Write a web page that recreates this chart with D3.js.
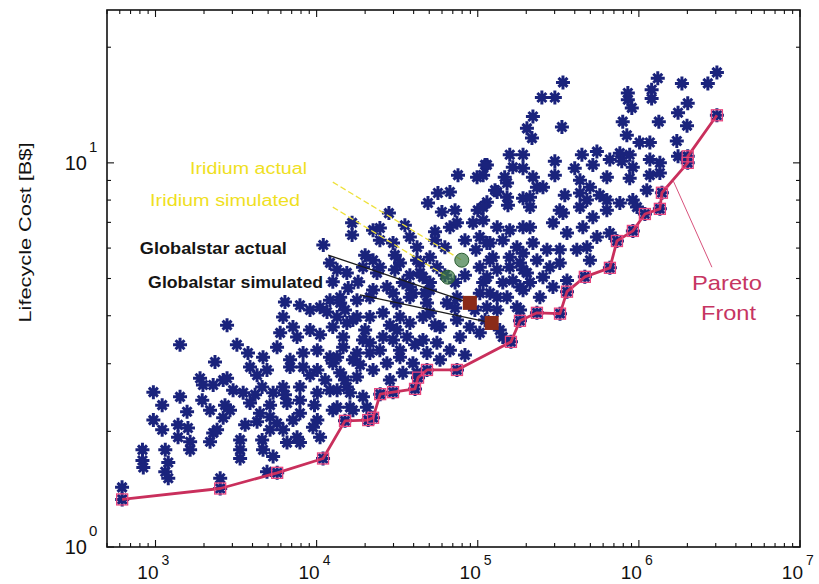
<!DOCTYPE html>
<html lang="en">
<head>
<meta charset="UTF-8">
<title>Lifecycle cost vs. capacity</title>
<script src="https://cdn.jsdelivr.net/npm/d3@7"></script>
<style>
  body { margin: 0; background: #fff; }
  svg { display: block; font-family: "Liberation Sans", Arial, Helvetica, sans-serif; }
</style>
</head>
<body>
<script>
const width = 819;
const height = 584;
const marginTop = 10;
const marginRight = 19;
const marginBottom = 37;
const marginLeft = 107;

// architectures: [capacity, lifecycle cost B$]
const designs = [
  [620,1.43],[830,1.79],[830,1.68],[840,1.61],[1150,1.79],[1200,1.66],[1150,1.57],[1200,1.51],
  [970,2.53],[1100,2.34],[970,2.14],[1100,2.02],[1420,2.46],[1570,2.25],[1380,2.08],[1590,2.04],
  [1380,1.93],[1640,1.88],[1640,1.79],[1890,2.75],[1970,2.64],[1950,2.41],[2180,2.27],[2280,1.98],
  [2180,1.88],[2630,2.72],[2700,2.34],[2630,2.17],[2410,2.02],[2520,1.51],[3350,1.90],[3350,1.79],
  [3350,1.70],[4590,1.90],[4650,1.79],[5370,1.72],[4920,1.57],[3030,2.56],[3500,2.52],[3860,2.37],
  [4450,2.23],[4270,2.12],[5370,2.52],[6190,2.61],[6550,2.37],[7130,2.14],[6190,2.02],[7560,1.93],
  [6550,1.87],[5680,2.10],[3860,2.94],[4920,2.89],[6840,2.94],[1420,3.36],[2780,3.78],[2280,2.64],
  [2780,2.75],[3750,3.20],[4650,3.12],[5680,3.31],[4270,2.80],[8240,2.94],[10100,2.89],[12600,3.01],
  [4590,2.61],[7880,2.61],[10100,2.52],[12100,2.56],[15400,2.61],[5140,2.18],[7880,2.23],[10100,2.14],
  [12600,2.27],[16100,2.31],[9490,2.05],[10500,1.93],[7880,1.87],
  [11000,6.11],[16600,6.98],[16600,6.49],[12100,5.49],[13400,5.27],[15400,5.17],[12600,4.90],[15700,4.72],
  [18100,4.90],[19400,5.35],[6360,4.34],[6190,3.97],[7880,4.26],[9100,4.14],[10500,4.21],[12100,4.39],
  [11600,4.09],[14000,4.32],[7130,3.74],[5940,3.61],[7560,3.52],[9100,3.67],[10500,3.57],[12600,3.74],
  [15400,3.83],[17800,3.97],[6840,3.07],[8240,3.20],[10100,3.25],[12100,3.12],[14600,3.31],[17800,3.20],
  [21400,3.40],[25800,3.52],[31500,3.67],[37900,3.83],[45700,3.97],[22400,6.68],[24700,6.29],[29800,6.19],
  [37900,6.41],[42000,6.03],[43800,5.49],[22400,5.58],[23700,5.17],[27300,4.75],[21400,4.47],[17800,4.39],
  [34300,4.88],[39600,4.58],[31500,4.32],[25800,4.07],[21400,3.97],[48400,4.32],[45700,5.04],
  [75400,9.29],[99000,9.18],[111000,9.88],[158000,10.5],[191000,10.5],[165000,9.74],[56600,8.35],[67200,8.40],
  [49100,7.86],[59900,7.45],[28100,7.40],[24700,6.77],[54300,6.62],[67200,6.80],[74300,6.98],[54300,6.29],
  [62500,6.03],[100000,7.53],[114000,7.90],[132000,8.40],[152000,8.86],[154000,7.76],[191000,8.09],[93400,6.98],
  [108000,7.09],[132000,6.80],[158000,6.68],[191000,6.80],[103000,6.41],[119000,6.19],[143000,6.29],[175000,6.03],
  [97500,5.94],[124000,5.68],[158000,5.68],[191000,5.82],[24700,5.35],[32900,5.49],[42000,5.58],[50500,5.68],
  [55800,5.35],[43800,5.17],[22400,4.67],[29800,4.58],[37900,4.75],[50500,4.88],[103000,5.35],[132000,5.27],
  [158000,5.35],[191000,5.27],[108000,4.88],[143000,4.88],[183000,4.75],[103000,4.58],[132000,4.47],
  [14000,4.47],[37900,4.47],[47000,4.58],[64400,4.32],[74300,4.47],[152000,4.47],[175000,4.21],[132000,4.14],
  [13400,3.97],[16800,3.90],[32900,3.97],[50500,4.07],[58300,3.74],[74300,3.90],[89300,3.74],[103000,3.61],
  [143000,3.52],[14600,3.52],[19400,3.46],[29800,3.46],[36400,3.52],[45700,3.46],[55800,3.40],[77600,3.52],
  [13400,3.12],[16800,3.07],[21400,3.20],[27300,3.01],[32900,3.12],[39600,3.01],[48400,3.20],[58300,3.07],
  [14000,2.84],[17800,2.77],[22400,2.89],[28500,2.72],[34300,2.84],[42000,2.84],[13400,2.56],[16100,2.52],
  [19400,2.46],[13400,2.31],[16800,2.27],[20500,2.31],
  [338000,16.2],[250000,14.8],[301000,14.8],[220000,13.2],[202000,12.3],[217000,11.6],[333000,12.4],[854000,15.2],
  [1200000,15.5],[1200000,14.7],[1310000,16.6],[1850000,16.1],[904000,13.9],[794000,12.8],[842000,11.8],[1010000,11.3],
  [1170000,11.3],[1330000,12.8],[1750000,13.5],[1720000,11.4],[1750000,10.4],[114000,9.88],[191000,9.68],[301000,10.1],
  [301000,9.29],[400000,9.68],[443000,10.5],[549000,10.7],[518000,9.88],[660000,10.2],[762000,10.6],[877000,10.5],
  [917000,9.74],[633000,9.18],[877000,9.12],[1170000,10.2],[1350000,10.0],[1170000,9.29],[1350000,9.41],[1120000,8.49],
  [147000,9.18],[128000,8.49],[152000,8.14],[220000,9.18],[233000,8.64],[211000,8.14],[254000,8.64],[431000,9.01],
  [431000,8.35],[497000,8.64],[476000,8.00],[633000,8.00],[762000,7.86],[917000,8.00],[108000,9.29],[3050000,17.2],
  [2680000,16.1],[854000,14.6],[2010000,14.3],[1990000,12.5],[783000,10.1],
  [108000,7.67],[211000,7.67],[323000,7.53],[431000,7.67],[518000,7.22],[633000,7.53],[973000,7.67],[211000,6.80],
  [293000,6.98],[338000,7.40],[358000,6.57],[449000,6.80],[549000,6.41],[660000,6.57],[114000,6.19],[220000,6.19],
  [269000,5.94],[323000,5.94],[412000,5.94],[476000,6.03],[497000,5.58],[119000,5.58],[183000,5.49],[233000,5.58],
  [280000,5.35],[323000,5.49],[202000,5.17],[114000,5.04],[165000,4.94],[211000,4.88],[254000,5.04],[293000,4.75],
  [119000,4.58],[191000,4.66],[114000,4.21],[183000,4.14],[137000,3.67],[358000,4.94],[72300,4.88],[83300,5.10],
  [15000,4.14],[20000,3.67],[28500,3.78],[40800,3.36],[67200,3.25],[83300,3.16],[111000,3.90],[96000,4.14],
  [54300,3.78],[72300,4.19],[32900,3.25],[24700,3.25],[18600,2.98],[15000,2.72],[11300,2.72],[9100,2.80],
  [7880,2.41],[9700,2.34],[6360,2.49],[5140,2.34],[4150,2.49],[2900,2.27],[3600,2.08],[5140,2.02],
  [50500,4.67],[62500,5.10],[30600,5.27],[37900,5.10],[20000,5.75],[30600,5.75],[35300,6.88],[572000,8.24],
  [347000,8.24],[72300,7.53],[83300,6.29],[243000,4.47],[2340,3.03],[3200,3.36]
];

const paretoFront = [
  [621,1.33],[2520,1.42],[5690,1.56],[10960,1.70],[15000,2.13],[20900,2.14],[22400,2.17],
  [24800,2.50],[29800,2.53],[40800,2.58],[42600,2.76],[48400,2.89],[74300,2.89],[160700,3.42],
  [182800,3.88],[233000,4.07],[324000,4.05],[358000,4.62],[462000,5.05],[661000,5.33],[731000,6.26],
  [918000,6.65],[1090000,7.36],[1350000,7.59],[1390000,8.36],[2010000,10.0],[2010000,10.4],[3050000,13.3]
];

// real systems vs. their simulated counterparts
const systems = ["Iridium actual", "Iridium simulated", "Globalstar actual", "Globalstar simulated"];
const systemPoints = [[79600,5.58],[65300,5.04],[89300,4.32],[122000,3.83]];
const labelAnchors = [[1640,9.68],[926,8.0],[800,6.0],[900,4.87]];
const leaderStarts = [[12600,8.91],[12600,7.67],[11800,5.75],[18600,4.53]];

const paretoLabel = ["Pareto", "Front"];
const paretoLabelAnchors = [[3520000,4.87],[3600000,4.07]];
const paretoLeader = [[1630000,9.0],[2840000,5.35]];

const xDecades = [1e3, 1e4, 1e5, 1e6, 1e7];
const yDecades = [1, 10];

const x = d3.scaleLog()
  .domain([500, 1e7])
  .range([marginLeft, width - marginRight]);

const y = d3.scaleLog()
  .domain([1, 25])
  .range([height - marginBottom, marginTop]);

const svg = d3.select("body").append("svg")
  .attr("width", width)
  .attr("height", height)
  .attr("viewBox", [0, 0, width, height]);

const plot = svg.append("g");

// scatter of asterisks
const star = "M-7,0H7M0,-7V7M-4.5,-4.5L4.5,4.5M-4.5,4.5L4.5,-4.5";
const starColor = "#1a237c";

plot.append("g")
  .attr("stroke", starColor)
  .attr("stroke-width", 3)
  .attr("fill", "none")
  .selectAll("path")
  .data(designs.concat(paretoFront))
  .join("path")
    .attr("transform", d => `translate(${x(d[0])},${y(d[1])})`)
    .attr("d", star);

// pareto front
const line = d3.line()
  .x(d => x(d[0]))
  .y(d => y(d[1]));

plot.append("path")
  .datum(paretoFront)
  .attr("fill", "none")
  .attr("stroke", "#c92f5c")
  .attr("stroke-width", 2.8)
  .attr("stroke-linejoin", "round")
  .attr("d", line);

plot.append("g")
  .attr("fill", "none")
  .attr("stroke", "#e6457e")
  .attr("stroke-width", 1.3)
  .selectAll("rect")
  .data(paretoFront)
  .join("rect")
    .attr("x", d => x(d[0]) - 5.5)
    .attr("y", d => y(d[1]) - 5.5)
    .attr("width", 11)
    .attr("height", 11);

// leader lines for the real systems
const leaderColor = ["#eee13a", "#eee13a", "#1c1c1c", "#1c1c1c"];
const leaderDash = ["6,3", "6,3", null, null];

plot.append("g")
  .selectAll("line")
  .data(systems)
  .join("line")
    .attr("x1", (d, i) => x(leaderStarts[i][0]))
    .attr("y1", (d, i) => y(leaderStarts[i][1]))
    .attr("x2", (d, i) => x(systemPoints[i][0]))
    .attr("y2", (d, i) => y(systemPoints[i][1]))
    .attr("stroke", (d, i) => leaderColor[i])
    .attr("stroke-width", 1.3)
    .attr("stroke-dasharray", (d, i) => leaderDash[i]);

// iridium markers (green), globalstar markers (brown squares)
plot.append("g")
  .selectAll("circle")
  .data(systemPoints.slice(0, 2))
  .join("circle")
    .attr("cx", d => x(d[0]))
    .attr("cy", d => y(d[1]))
    .attr("r", 7)
    .attr("fill", "#3d7a45")
    .attr("fill-opacity", 0.7)
    .attr("stroke", "#2c5e33")
    .attr("stroke-width", 1);

plot.append("g")
  .selectAll("rect")
  .data(systemPoints.slice(2))
  .join("rect")
    .attr("x", d => x(d[0]) - 7)
    .attr("y", d => y(d[1]) - 7)
    .attr("width", 14)
    .attr("height", 14)
    .attr("fill", "#8b2b18");

// system labels
const labelColor = ["#efe01e", "#efe01e", "#151515", "#151515"];
const labelWeight = ["normal", "normal", "bold", "bold"];
const labelLength = [117, 150, 147, 175];

svg.append("g")
  .selectAll("text")
  .data(systems)
  .join("text")
    .attr("x", (d, i) => x(labelAnchors[i][0]))
    .attr("y", (d, i) => y(labelAnchors[i][1]))
    .attr("dy", "0.35em")
    .attr("font-size", 16)
    .attr("font-weight", (d, i) => labelWeight[i])
    .attr("fill", (d, i) => labelColor[i])
    .attr("textLength", (d, i) => labelLength[i])
    .attr("lengthAdjust", "spacingAndGlyphs")
    .text(d => d);

// pareto label + pointer
svg.append("line")
  .attr("x1", x(paretoLeader[0][0]))
  .attr("y1", y(paretoLeader[0][1]))
  .attr("x2", x(paretoLeader[1][0]))
  .attr("y2", y(paretoLeader[1][1]))
  .attr("stroke", "#d8527c")
  .attr("stroke-width", 1);

svg.append("g")
  .selectAll("text")
  .data(paretoLabel)
  .join("text")
    .attr("x", (d, i) => x(paretoLabelAnchors[i][0]))
    .attr("y", (d, i) => y(paretoLabelAnchors[i][1]))
    .attr("dy", "0.35em")
    .attr("text-anchor", "middle")
    .attr("font-size", 21)
    .attr("fill", "#c63562")
    .attr("textLength", (d, i) => i === 0 ? 70 : 55)
    .attr("lengthAdjust", "spacingAndGlyphs")
    .text(d => d);

// frame
const x0 = marginLeft, x1 = width - marginRight;
const y0 = height - marginBottom, y1 = marginTop;

svg.append("rect")
  .attr("x", x0)
  .attr("y", y1)
  .attr("width", x1 - x0)
  .attr("height", y0 - y1)
  .attr("fill", "none")
  .attr("stroke", "#111")
  .attr("stroke-width", 1.6);

// ticks on all four sides, pointing inwards
const isDecade = v => Math.abs(Math.log10(v) - Math.round(Math.log10(v))) < 1e-9;
const ticks = svg.append("g").attr("stroke", "#111").attr("stroke-width", 1.1);

x.ticks().forEach(v => {
  const len = isDecade(v) ? 7 : 4;
  ticks.append("line").attr("x1", x(v)).attr("x2", x(v)).attr("y1", y0).attr("y2", y0 - len);
  ticks.append("line").attr("x1", x(v)).attr("x2", x(v)).attr("y1", y1).attr("y2", y1 + len);
});

y.ticks().forEach(v => {
  const len = isDecade(v) ? 7 : 4;
  ticks.append("line").attr("y1", y(v)).attr("y2", y(v)).attr("x1", x0).attr("x2", x0 + len);
  ticks.append("line").attr("y1", y(v)).attr("y2", y(v)).attr("x1", x1).attr("x2", x1 - len);
});

// tick labels: 10 with exponent
const xl = svg.append("g").attr("fill", "#111");
xDecades.forEach(v => {
  xl.append("text")
    .attr("x", x(v) + 3)
    .attr("y", height - 5)
    .attr("text-anchor", "end")
    .attr("font-size", 19)
    .text("10");
  xl.append("text")
    .attr("x", x(v) + 6)
    .attr("y", height - 19)
    .attr("font-size", 14)
    .text(Math.round(Math.log10(v)));
});

const yl = svg.append("g").attr("fill", "#111");
yDecades.forEach(v => {
  yl.append("text")
    .attr("x", marginLeft - 20)
    .attr("y", y(v) + 7)
    .attr("text-anchor", "end")
    .attr("font-size", 20)
    .text("10");
  yl.append("text")
    .attr("x", marginLeft - 18)
    .attr("y", y(v) - 11)
    .attr("font-size", 15)
    .text(Math.round(Math.log10(v)));
});

svg.append("text")
  .attr("transform", `translate(31,${(y0 + y1) / 2 - 46}) rotate(-90)`)
  .attr("text-anchor", "middle")
  .attr("font-size", 17)
  .attr("fill", "#111")
  .attr("textLength", 180)
  .attr("lengthAdjust", "spacingAndGlyphs")
  .text("Lifecycle Cost [B$]");
</script>
</body>
</html>
